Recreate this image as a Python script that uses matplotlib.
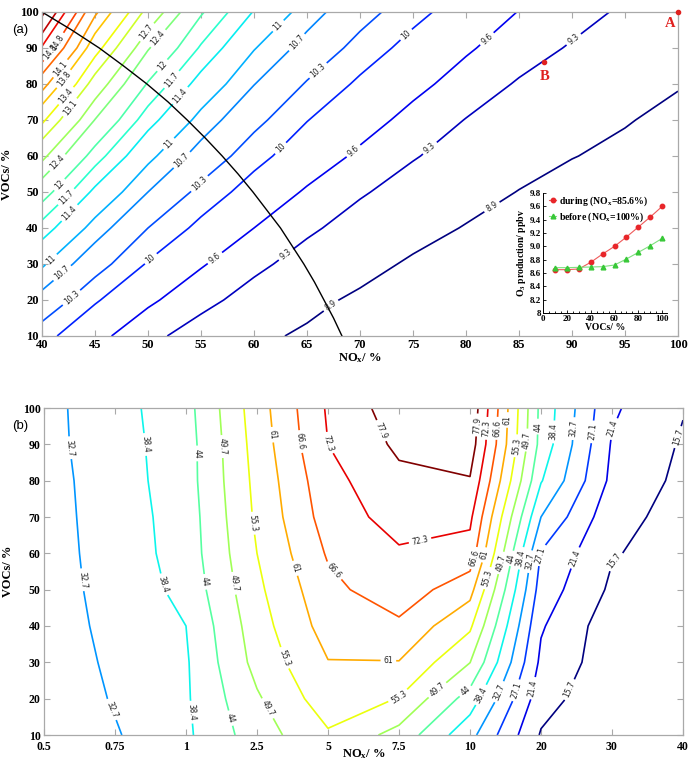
import numpy as np
import matplotlib
matplotlib.use("Agg")
import matplotlib.pyplot as plt
from matplotlib.colors import Normalize

plt.rcParams['font.family'] = ['DejaVu Sans']
plt.rcParams['mathtext.fontset'] = 'custom'
plt.rcParams['mathtext.rm'] = 'Liberation Serif:bold'
plt.rcParams['mathtext.it'] = 'Liberation Serif:italic:bold'
plt.rcParams['mathtext.bf'] = 'Liberation Serif:bold'
plt.rcParams['mathtext.default'] = 'rm'

SERIF = 'Liberation Serif'

# ---------------- panel (a): O3 production, NOx 40-100 %, VOCs 10-100 % ----------------
nox_a = [40, 45, 50, 55, 60, 65, 70, 75, 80, 85, 90, 95, 100]
voc_a = [10, 20, 30, 40, 50, 60, 70, 80, 90, 100]
o3_a = [
    [10.12, 9.70, 9.38, 9.16, 8.97, 8.85, 8.78, 8.73, 8.70, 8.67, 8.67, 8.68, 8.70],
    [10.57, 10.04, 9.66, 9.39, 9.18, 8.99, 8.84, 8.77, 8.72, 8.68, 8.67, 8.68, 8.70],
    [11.05, 10.45, 9.97, 9.63, 9.37, 9.18, 9.02, 8.85, 8.78, 8.70, 8.68, 8.69, 8.70],
    [11.57, 10.87, 10.30, 9.91, 9.60, 9.35, 9.18, 9.03, 8.88, 8.79, 8.74, 8.72, 8.71],
    [12.17, 11.32, 10.70, 10.20, 9.85, 9.56, 9.33, 9.18, 9.04, 8.89, 8.79, 8.74, 8.71],
    [12.79, 11.85, 11.09, 10.55, 10.11, 9.80, 9.54, 9.32, 9.18, 9.04, 8.91, 8.83, 8.74],
    [13.47, 12.39, 11.53, 10.89, 10.40, 10.01, 9.74, 9.50, 9.29, 9.17, 9.04, 8.92, 8.82],
    [14.25, 12.93, 11.97, 11.26, 10.71, 10.27, 9.94, 9.69, 9.47, 9.27, 9.14, 9.03, 8.92],
    [15.16, 13.55, 12.43, 11.66, 11.02, 10.57, 10.18, 9.88, 9.64, 9.44, 9.27, 9.15, 9.02],
    [16.00, 14.17, 12.98, 12.04, 11.38, 10.85, 10.44, 10.10, 9.83, 9.59, 9.42, 9.25, 9.12],
]
levels_a = [8.9, 9.3, 9.6, 10, 10.3, 10.7, 11, 11.4, 11.7, 12, 12.4, 12.7,
            13.1, 13.4, 13.8, 14.1, 14.5, 14.8, 15.2, 15.5, 15.9]

# dividing curve drawn across panel (a)
arc_voc = [100, 95, 90, 85, 80, 75, 70, 65, 60, 55, 50, 45, 40, 35, 30, 25, 20, 15, 10]
arc_nox = [40.0, 42.8, 45.4, 47.7, 49.9, 51.9, 53.7, 55.4, 57.0, 58.5, 59.9,
           61.2, 62.5, 63.6, 64.7, 65.7, 66.6, 67.5, 68.3]

# scenario points
pt_names = ['A', 'B']
pt_nox = [100, 87.4]
pt_voc = [100, 86.0]

# inset: O3 production along VOCs cuts
voc_cut = [10, 20, 30, 40, 50, 60, 70, 80, 90, 100]
o3_during = [8.65, 8.65, 8.66, 8.76, 8.885, 9.00, 9.14, 9.29, 9.44, 9.60]
o3_before = [8.68, 8.68, 8.685, 8.69, 8.695, 8.72, 8.81, 8.91, 9.01, 9.12]
inset_yticks = ['8', '8.2', '8.4', '8.6', '8.8', '9.0', '9.2', '9.4', '9.6', '9.8']

# ---------------- panel (b): O3 over wide NOx range ----------------
nox_b = [0.5, 0.75, 1, 2.5, 5, 7.5, 10, 20, 30, 40]
voc_b = [10, 20, 30, 40, 50, 60, 70, 80, 90, 100]
o3_b = [
    [27.5, 32.2, 37.4, 46.95, 54.6, 47.7, 34.5, 15.2, 10.5, 10.2],
    [28.5, 33.2, 37.7, 49.0, 58.4, 55.1, 41.5, 18.1, 11.2, 10.5],
    [29.4, 33.75, 37.8, 51.55, 60.8, 60.8, 49.8, 20.2, 12.4, 11.0],
    [30.0, 34.2, 38.4, 52.8, 63.4, 65.5, 56.3, 22.0, 12.5, 11.5],
    [30.2, 34.7, 40.0, 54.1, 65.1, 69.9, 63.0, 24.5, 14.7, 12.8],
    [30.3, 35.1, 40.8, 55.3, 67.2, 71.6, 70.1, 26.7, 16.1, 13.4],
    [30.4, 35.4, 41.0, 56.3, 69.2, 74.6, 73.5, 32.7, 17.5, 13.8],
    [30.5, 35.7, 41.5, 56.9, 70.5, 76.5, 77.5, 38.8, 20.0, 14.3],
    [30.8, 36.1, 41.5, 57.6, 72.3, 79.0, 81.0, 42.0, 20.9, 15.1],
    [30.9, 36.3, 42.0, 58.3, 73.0, 81.0, 82.4, 42.4, 22.25, 16.0],
]
levels_b = [15.7, 21.4, 27.1, 32.7, 38.4, 44, 49.7, 55.3, 61, 66.6, 72.3, 77.9]

# where the contour values are written
label_spots_a = [
    (67, 19.5), (82.5, 45.6), (62.9, 33.1), (76.5, 62.5), (90, 93),
    (56.3, 31.7), (69.3, 61.7), (81.9, 92.8), (50.2, 31.7), (62.4, 62.5), (74.2, 94.2),
    (42.8, 20.6), (54.8, 52.5), (66, 83.9), (41.9, 27.5), (53.2, 58.9), (64, 91.7),
    (40.9, 31.1), (51.9, 63.6), (62.2, 96.4), (42.6, 44.2), (53, 76.9),
    (42.4, 48.3), (52.3, 81.1), (41.7, 51.9), (51.3, 85.3), (41.7, 57.5), (50.9, 92.8),
    (49.9, 94.4), (42.6, 73.6), (42.4, 76.4), (42.2, 81.1), (41.7, 84.4),
    (41.0, 88.6), (41.2, 91.7),
]
label_spots_b = [
    (0.34, 89), (0.53, 52.7), (0.94, 16.9), (7.41, 94.4), (6.85, 57.7), (6.41, 21.9),
    (1.45, 90), (1.77, 51.8), (2.15, 16.4), (7.1, 93.5), (6.73, 58.6), (6.16, 21),
    (2.19, 87.5), (2.29, 52.2), (2.62, 14.6), (6.92, 94.9), (6.59, 58.6), (5.94, 22),
    (2.52, 89.4), (2.69, 51.8), (3.11, 16.9), (6.75, 91.2), (6.45, 57.3), (5.54, 22.4),
    (2.95, 68.3), (3.37, 31.1), (5.01, 20.1), (6.26, 53.1), (6.59, 89.8),
    (3.19, 92.6), (3.54, 55.9), (4.85, 30.2), (6.21, 59.5), (6.53, 96.7),
    (3.58, 90.7), (4.07, 55), (6.07, 58.6), (6.38, 94.4),
    (4.0, 90.3), (5.3, 63.2), (6.23, 94.4),
    (4.72, 93.5), (6.12, 95.3),
    (7.69, 93.5), (6.99, 59.6), (6.63, 22.4),
    (8.0, 94.4), (7.5, 58.6), (6.88, 22.9),
    (8.91, 92.1), (8.09, 56.8), (7.41, 22.4),
]

FRAME = '#a9a9a9'
TICKFONT = dict(fontfamily=SERIF, fontweight='bold', fontsize=9)
TICKFONT_B = dict(fontfamily=SERIF, fontweight='bold', fontsize=8.5)
LABELFONT = dict(fontfamily=SERIF, fontweight='bold', fontsize=9)


def frame(ax):
    for s in ax.spines.values():
        s.set_color(FRAME)
        s.set_linewidth(0.9)
    ax.tick_params(which='both', direction='in', top=True, right=True,
                   length=4.5, width=0.8, color=FRAME, pad=2.5)


def contour_labels(ax, cs, spots):
    texts = ax.clabel(cs, inline=True, inline_spacing=3, fontsize=5.5, fmt='%g',
                      colors='#222222', manual=spots)
    for t in texts:
        t.set_fontfamily('DejaVu Sans')


fig = plt.figure(figsize=(6.89, 7.61), dpi=100)

# ---- panel (a) ----
axA = fig.add_axes([42 / 689, 1 - 336 / 761, 636 / 689, 324 / 761])
cs_a = axA.contour(nox_a, voc_a, o3_a, levels=levels_a, cmap='jet',
                   norm=Normalize(levels_a[0], levels_a[-1]), linewidths=1.2)
contour_labels(axA, cs_a, label_spots_a)
axA.plot(arc_nox, arc_voc, color='black', lw=1.0)
axA.plot(pt_nox, pt_voc, 'o', color='#e0211f', ms=3, clip_on=False, zorder=5)
axA.text(pt_nox[0] - 0.7, pt_voc[0] - 3.2, pt_names[0], color='#e0211f', ha='center',
         va='center', fontfamily=SERIF, fontweight='bold', fontsize=10.5)
axA.text(pt_nox[1], pt_voc[1] - 4.0, pt_names[1], color='#e0211f', ha='center',
         va='center', fontfamily=SERIF, fontweight='bold', fontsize=10.5)
axA.set_xlim(40, 100)
axA.set_ylim(10, 100)
axA.set_xticks(np.arange(40, 101, 5), labels=[str(v) for v in range(40, 101, 5)], **TICKFONT)
axA.set_yticks(np.arange(10, 101, 10), labels=[str(v) for v in range(10, 101, 10)], **TICKFONT)
frame(axA)
axA.set_xlabel(r'NO$_x$/ %', **LABELFONT)
axA.set_ylabel('VOCs/ %', **LABELFONT)
axA.xaxis.set_label_coords(0.5, -0.048)
axA.yaxis.set_label_coords(-0.045, 0.5)

# ---- inset ----
axI = fig.add_axes([543 / 689, 1 - 313 / 761, 124 / 689, 120 / 761])
axI.set_facecolor('none')
axI.plot(voc_cut, o3_during, '-o', color='#ef5a5a', lw=0.8, ms=3.2, mfc='#e8262a',
         mec='#e8262a', label=r'during (NO$_x$=85.6%)')
axI.plot(voc_cut, o3_before, '-^', color='#7fe07f', lw=0.8, ms=3.4, mfc='#38c838',
         mec='#38c838', label=r'before (NO$_x$=100%)')
axI.set_xlim(0, 104)
axI.set_ylim(8, 9.8)
axI.spines['top'].set_visible(False)
axI.spines['right'].set_visible(False)
for s in ('left', 'bottom'):
    axI.spines[s].set_linewidth(0.7)
axI.set_yticks(np.linspace(8, 9.8, 10), labels=inset_yticks,
               fontfamily=SERIF, fontweight='bold', fontsize=6.5)
axI.set_xticks(np.arange(0, 101, 20), labels=[str(v) for v in range(0, 101, 20)],
               fontfamily=SERIF, fontweight='bold', fontsize=6.5)
axI.set_xticks(np.arange(0, 101, 5), minor=True)
axI.tick_params(which='both', direction='in', length=2, width=0.6, pad=1.5)
axI.tick_params(which='minor', length=1.2)
axI.set_xlabel('VOCs/ %', fontfamily=SERIF, fontweight='bold', fontsize=7, labelpad=0)
axI.set_ylabel(r'O$_3$ production/ ppbv', fontfamily=SERIF, fontweight='bold',
               fontsize=7, labelpad=1)
leg = axI.legend(loc='upper left', bbox_to_anchor=(0.02, 1.02), frameon=False,
                 handlelength=0.7, handletextpad=0.3, labelspacing=0.25,
                 borderaxespad=0, prop=dict(family=SERIF, weight='bold', size=7))

# ---- panel (b) ----
xb = np.arange(len(nox_b))
axB = fig.add_axes([44 / 689, 1 - 735 / 761, 639 / 689, 327 / 761])
cs_b = axB.contour(xb, voc_b, o3_b, levels=levels_b, cmap='jet',
                   norm=Normalize(levels_b[0], levels_b[-1]), linewidths=1.2)
contour_labels(axB, cs_b, label_spots_b)
axB.set_xlim(0, len(nox_b) - 1)
axB.set_ylim(10, 100)
axB.set_xticks(xb, labels=['%g' % v for v in nox_b], **TICKFONT_B)
axB.set_yticks(np.arange(10, 101, 10), labels=[str(v) for v in range(10, 101, 10)], **TICKFONT_B)
frame(axB)
axB.tick_params(axis='x', pad=4)
axB.set_xlabel(r'NO$_x$/ %', **LABELFONT)
axB.set_ylabel('VOCs/ %', **LABELFONT)
axB.xaxis.set_label_coords(0.5, -0.038)
axB.yaxis.set_label_coords(-0.047, 0.5)

fig.text(12 / 689, 1 - 30 / 761, '(a)', fontfamily='Liberation Sans', fontsize=9.5, va='center')
fig.text(12 / 689, 1 - 426 / 761, '(b)', fontfamily='Liberation Sans', fontsize=9.5, va='center')

fig.savefig('out.png', dpi=100)
